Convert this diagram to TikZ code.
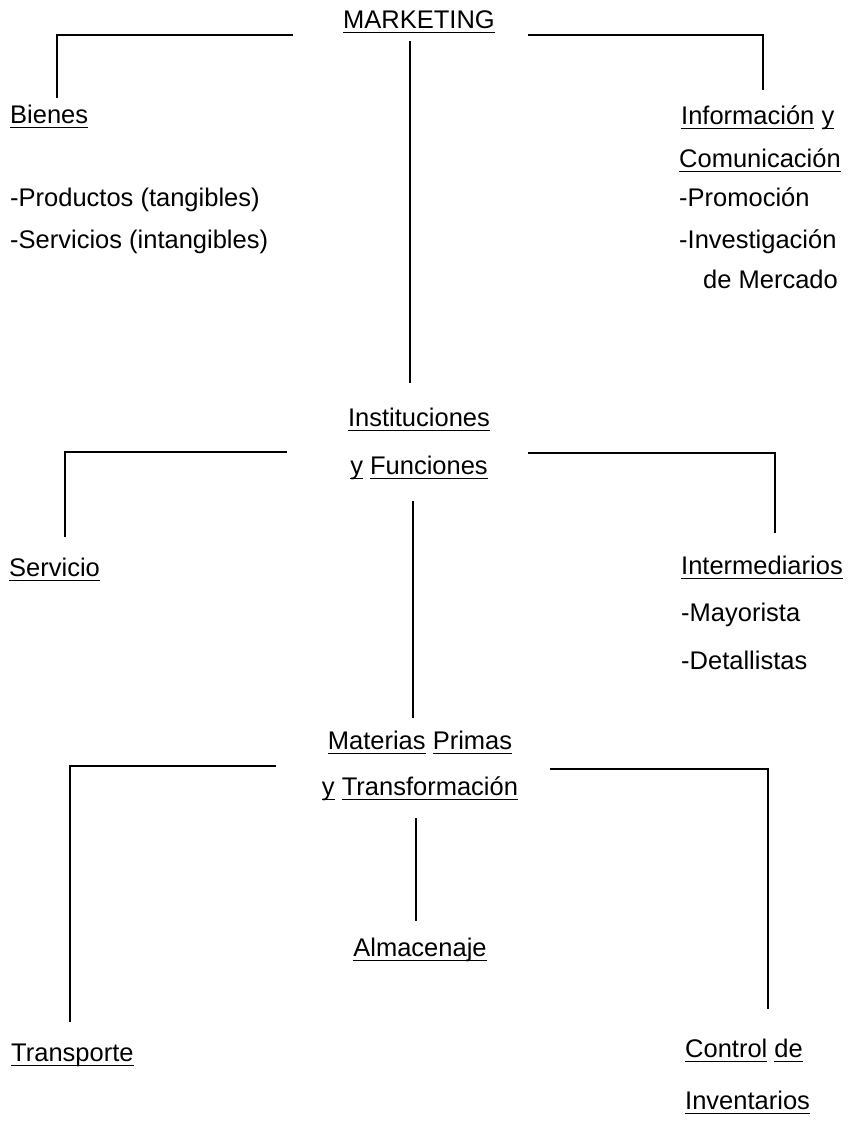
\documentclass[tikz,border=0pt]{standalone}
\usepackage{fontspec}
\setmainfont{Liberation Sans}

% underline one word at a time, as in the scan
\newcommand{\uword}[1]{\setbox0\hbox{#1}\rlap{\rule[-5pt]{\wd0}{1.3pt}}\box0\relax}

\tikzset{
  lbl/.style={inner sep=0pt, font=\fontsize{25.5}{30}\selectfont},
  sidelbl/.style={lbl, anchor=base west},
  midlbl/.style={lbl, anchor=base},
  branch/.style={line width=1.1pt}
}

\begin{document}
\begin{tikzpicture}[x=1pt,y=-1pt]
    \useasboundingbox (0,0) rectangle (849,1130);

    % Level 1
    \node[midlbl] (mkt) at (419,28) {\uword{MARKETING}};

    \node[sidelbl] (bienes) at (10,123) {\uword{Bienes}};
    \node[sidelbl] (prod) at (10,206) {-Productos (tangibles)};
    \node[sidelbl] (servs) at (10,248) {-Servicios (intangibles)};

    \node[sidelbl] (info) at (681,124) {\uword{Información} \uword{y}};
    \node[sidelbl] (comu) at (679,167) {\uword{Comunicación}};
    \node[sidelbl] (promo) at (679,206) {-Promoción};
    \node[sidelbl] (inv) at (679,248) {-Investigación};
    \node[sidelbl] (merc) at (703,288) {de Mercado};

    % Level 2
    \node[midlbl] (inst) at (419,426) {\uword{Instituciones}};
    \node[midlbl] (func) at (419,474) {\uword{y} \uword{Funciones}};

    \node[sidelbl] (servicio) at (9,576) {\uword{Servicio}};

    \node[sidelbl] (inter) at (681,574) {\uword{Intermediarios}};
    \node[sidelbl] (mayor) at (681,621) {-Mayorista};
    \node[sidelbl] (detal) at (681,669) {-Detallistas};

    % Level 3
    \node[midlbl] (mat) at (420,749) {\uword{Materias} \uword{Primas}};
    \node[midlbl] (trans) at (420,795) {\uword{y} \uword{Transformación}};
    \node[midlbl] (alm) at (420,956) {\uword{Almacenaje}};

    \node[sidelbl] (transp) at (11,1061) {\uword{Transporte}};
    \node[sidelbl] (ctrl) at (685,1057) {\uword{Control} \uword{de}};
    \node[sidelbl] (invent) at (685,1109) {\uword{Inventarios}};

    % Brackets, level 1
    \coordinate (l1a) at (57,98);
    \coordinate (l1b) at (57,35);
    \coordinate (l1c) at (293,35);
    \coordinate (r1a) at (528,35);
    \coordinate (r1b) at (763,35);
    \coordinate (r1c) at (763,90);
    \draw[branch] (l1a) -- (l1b) -- (l1c);
    \draw[branch] (r1a) -- (r1b) -- (r1c);

    % Stem, level 1 to 2
    \coordinate (s1a) at (410,41);
    \coordinate (s1b) at (410,383);
    \draw[branch] (s1a) -- (s1b);

    % Brackets, level 2
    \coordinate (l2a) at (65,537);
    \coordinate (l2b) at (65,452);
    \coordinate (l2c) at (287,452);
    \coordinate (r2a) at (528,453);
    \coordinate (r2b) at (775,453);
    \coordinate (r2c) at (775,533);
    \draw[branch] (l2a) -- (l2b) -- (l2c);
    \draw[branch] (r2a) -- (r2b) -- (r2c);

    % Stem, level 2 to 3
    \coordinate (s2a) at (413,501);
    \coordinate (s2b) at (413,718);
    \draw[branch] (s2a) -- (s2b);

    % Brackets, level 3
    \coordinate (l3a) at (70,1022);
    \coordinate (l3b) at (70,766);
    \coordinate (l3c) at (276,766);
    \coordinate (r3a) at (550,769);
    \coordinate (r3b) at (768,769);
    \coordinate (r3c) at (768,1009);
    \draw[branch] (l3a) -- (l3b) -- (l3c);
    \draw[branch] (r3a) -- (r3b) -- (r3c);

    % Stem to Almacenaje
    \coordinate (s3a) at (416,818);
    \coordinate (s3b) at (416,921);
    \draw[branch] (s3a) -- (s3b);
\end{tikzpicture}
\end{document}
